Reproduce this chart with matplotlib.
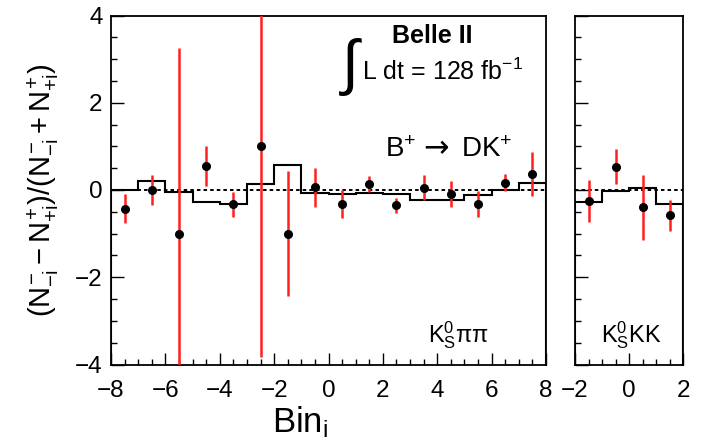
import numpy as np
import matplotlib
matplotlib.use('Agg')
import matplotlib.pyplot as plt
from matplotlib.ticker import MultipleLocator

# Helvetica-like look, as in ROOT plots
plt.rcParams['font.family'] = ['Liberation Sans', 'DejaVu Sans']
plt.rcParams['mathtext.fontset'] = 'custom'
plt.rcParams['mathtext.rm'] = 'Liberation Sans'
plt.rcParams['mathtext.it'] = 'Liberation Sans'
plt.rcParams['mathtext.bf'] = 'Liberation Sans:bold'

# K0S pi pi: bins -8..8 (no bin 0)
kspp_x = [-7.5, -6.5, -5.5, -4.5, -3.5, -2.5, -1.5, -0.5, 0.5, 1.5, 2.5, 3.5, 4.5, 5.5, 6.5, 7.5]
kspp_asym = [-0.43, 0.0, -1.0, 0.55, -0.33, 1.0, -1.0, 0.06, -0.32, 0.135, -0.35, 0.05, -0.10, -0.33, 0.17, 0.36]
kspp_err = [0.33, 0.34, 4.25, 0.45, 0.28, 4.83, 1.43, 0.45, 0.32, 0.18, 0.17, 0.29, 0.30, 0.30, 0.20, 0.50]
kspp_edges = [-8, -7, -6, -5, -4, -3, -2, -1, 0, 1, 2, 3, 4, 5, 6, 7, 8]
kspp_model = [0.0, 0.20, -0.04, -0.27, -0.33, 0.14, 0.57, -0.06, -0.10, -0.08, -0.10, -0.24, -0.22, -0.12, 0.0, 0.16]

# K0S K K: bins -2..2
kskk_x = [-1.5, -0.5, 0.5, 1.5]
kskk_asym = [-0.25, 0.53, -0.40, -0.58]
kskk_err = [0.49, 0.40, 0.75, 0.36]
kskk_edges = [-2, -1, 0, 1, 2]
kskk_model = [-0.27, -0.03, 0.05, -0.33]

W, H = 702, 447
fig = plt.figure(figsize=(W / 100, H / 100), dpi=100)

def px_axes(x0, x1, y0, y1):
    return fig.add_axes([x0 / W, 1 - y1 / H, (x1 - x0) / W, (y1 - y0) / H])

ax1 = px_axes(111, 546, 15.5, 364.5)
ax2 = px_axes(575, 683, 15.5, 364.5)

def draw_panel(ax, x, y, err, edges, model, xlim):
    ax.axhline(0, color='black', lw=1.4, ls=(0, (1.8, 1.6)), zorder=1)
    ax.stairs(model, edges, baseline=-4, color='black', lw=1.5, zorder=2)
    ax.errorbar(x, y, yerr=err, fmt='none', ecolor='#ff2020', elinewidth=1.8,
                capsize=0, zorder=3)
    ax.plot(x, y, 'o', color='black', ms=5.5, zorder=4)
    ax.set_xlim(*xlim)
    ax.set_ylim(-4, 4)
    for s in ax.spines.values():
        s.set_linewidth(1.3)
    ax.xaxis.set_minor_locator(MultipleLocator(0.5))
    ax.yaxis.set_major_locator(MultipleLocator(2))
    ax.yaxis.set_minor_locator(MultipleLocator(0.5))
    ax.tick_params(which='both', direction='in', top=False, right=False, width=1.0)
    ax.tick_params(which='major', length=9, labelsize=17.5)
    ax.tick_params(which='minor', length=4.5)
    ax.tick_params(axis='x', pad=11)
    ax.tick_params(axis='y', pad=6)

draw_panel(ax1, kspp_x, kspp_asym, kspp_err, kspp_edges, kspp_model, (-8, 8))
ax1.xaxis.set_major_locator(MultipleLocator(2))

draw_panel(ax2, kskk_x, kskk_asym, kskk_err, kskk_edges, kskk_model, (-2, 2))
ax2.xaxis.set_major_locator(MultipleLocator(2))
ax2.set_yticklabels([])

# labels
fig.text(300 / W, 1 - 432 / H, r'$\mathrm{Bin}_{\mathrm{i}}$', fontsize=25,
         ha='center', va='baseline')
fig.text(43 / W, 1 - 190 / H, r'$(N^{-}_{-i}-N^{+}_{+i})/(N^{-}_{-i}+N^{+}_{+i})$',
         fontsize=21, rotation=90, ha='center', va='center')

# annotations
fig.text(432 / W, 1 - 43 / H, 'Belle II', fontsize=18,
         fontweight='bold', ha='center', va='baseline')
fig.text(350 / W, 1 - 67 / H, '\u222b', fontsize=44,
         family=['Liberation Sans', 'DejaVu Sans'], ha='center', va='center')
fig.text(362 / W, 1 - 80 / H, r'L dt = 128 fb$^{-1}$', fontsize=18,
         ha='left', va='baseline')
fig.text(385 / W, 1 - 157 / H, 'B$^{+}$', fontsize=20, ha='left', va='baseline')
fig.text(436 / W, 1 - 149 / H, '\u2192', fontsize=22, family='DejaVu Sans',
         ha='center', va='center')
fig.text(461 / W, 1 - 157 / H, 'DK$^{+}$', fontsize=20, ha='left', va='baseline')
fig.text(428 / W, 1 - 342 / H, r'K$^{0}_{\mathrm{S}}\pi\pi$', fontsize=17,
         ha='left', va='baseline')
fig.text(601 / W, 1 - 342 / H, r'K$^{0}_{\mathrm{S}}$KK', fontsize=17,
         ha='left', va='baseline')

fig.savefig('out.png', dpi=100)
